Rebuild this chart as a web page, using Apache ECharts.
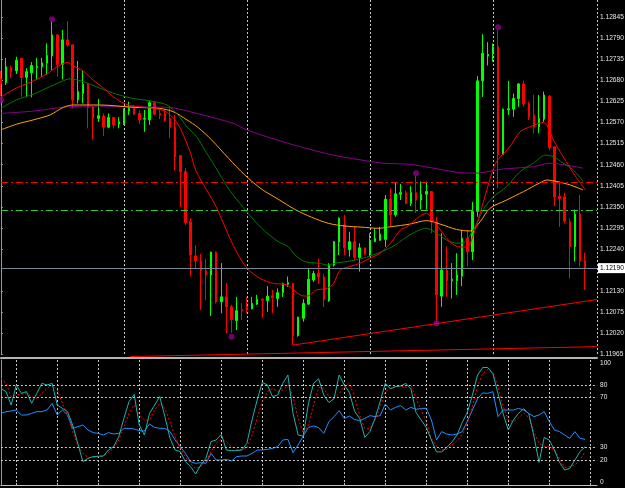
<!DOCTYPE html>
<html>
<head>
<meta charset="utf-8">
<script src="https://cdn.jsdelivr.net/npm/echarts@6/dist/echarts.min.js"></script>
<style>
  html, body { margin: 0; padding: 0; background: #000; }
  #chart { width: 625px; height: 488px; }
</style>
</head>
<body>
<div id="chart"></div>
<script>
// candles, one per bar (bar index = position in array)
var opens = [1.12684,1.12674,1.12713,1.12705,1.12738,1.12688,1.12700,1.12714,1.12716,1.12725,
  1.12744,1.12799,1.12722,1.12786,1.12773,1.12629,1.12646,1.12670,1.12611,1.12581,
  1.12587,1.12558,1.12583,1.12566,1.12566,1.12600,1.12607,1.12594,1.12579,1.12577,
  1.12622,1.12594,1.12594,1.12581,1.12558,1.12484,1.12442,1.12311,1.12222,1.12209,
  1.12183,1.12172,1.12232,1.12102,1.12115,1.12089,1.12053,1.12082,1.12091,1.12084,
  1.12096,1.12109,1.12105,1.12118,1.12111,1.12126,1.12148,1.12150,1.12014,1.12059,
  1.12096,1.12159,1.12176,1.12167,1.12105,1.12198,1.12258,1.12303,1.12238,1.12259,
  1.12218,1.12243,1.12224,1.12259,1.12263,1.12265,1.12370,1.12329,1.12383,1.12387,
  1.12359,1.12387,1.12368,1.12383,1.12390,1.12311,1.12117,1.12185,1.12157,1.12157,
  1.12169,1.12268,1.12233,1.12338,1.12679,1.12744,1.12752,1.12768,1.12487,1.12603,
  1.12605,1.12633,1.12671,1.12620,1.12590,1.12559,1.12579,1.12639,1.12507,1.12378,
  1.12376,1.12311,1.12246,1.12331,1.12209];
var closes = [1.12671,1.12716,1.12703,1.12733,1.12688,1.12703,1.12719,1.12717,1.12726,1.12745,
  1.12799,1.12722,1.12786,1.12773,1.12629,1.12651,1.12670,1.12610,1.12581,1.12588,
  1.12558,1.12583,1.12564,1.12572,1.12603,1.12607,1.12592,1.12577,1.12581,1.12622,
  1.12592,1.12590,1.12575,1.12557,1.12481,1.12442,1.12309,1.12224,1.12209,1.12183,
  1.12172,1.12232,1.12102,1.12115,1.12089,1.12056,1.12079,1.12079,1.12082,1.12098,
  1.12109,1.12106,1.12117,1.12113,1.12126,1.12149,1.12152,1.12014,1.12062,1.12098,
  1.12161,1.12176,1.12167,1.12107,1.12198,1.12259,1.12320,1.12243,1.12259,1.12218,
  1.12243,1.12227,1.12263,1.12268,1.12279,1.12370,1.12329,1.12384,1.12387,1.12359,
  1.12387,1.12368,1.12383,1.12390,1.12311,1.12120,1.12185,1.12157,1.12161,1.12172,
  1.12268,1.12233,1.12338,1.12679,1.12751,1.12748,1.12768,1.12487,1.12605,1.12606,
  1.12633,1.12671,1.12619,1.12585,1.12558,1.12581,1.12642,1.12504,1.12376,1.12372,
  1.12313,1.12246,1.12331,1.12209,1.12190];
var lows = [1.12639,1.12668,1.12686,1.12697,1.12637,1.12636,1.12636,1.12681,1.12690,1.12694,
  1.12707,1.12690,1.12683,1.12768,1.12607,1.12620,1.12620,1.12555,1.12526,1.12572,
  1.12535,1.12555,1.12555,1.12555,1.12564,1.12590,1.12590,1.12566,1.12546,1.12564,
  1.12590,1.12579,1.12572,1.12529,1.12444,1.12350,1.12303,1.12168,1.12190,1.12081,
  1.12107,1.12065,1.12098,1.12072,1.12020,1.12021,1.12028,1.12055,1.12072,1.12082,
  1.12094,1.12059,1.12076,1.12072,1.12089,1.12115,1.12141,1.11989,1.12011,1.12050,
  1.12094,1.12154,1.12149,1.12088,1.12102,1.12194,1.12224,1.12224,1.12220,1.12211,
  1.12181,1.12224,1.12220,1.12259,1.12261,1.12246,1.12298,1.12324,1.12368,1.12357,
  1.12352,1.12334,1.12343,1.12343,1.12281,1.12049,1.12089,1.12115,1.12111,1.12120,
  1.12143,1.12194,1.12211,1.12324,1.12637,1.12719,1.12729,1.12398,1.12485,1.12590,
  1.12585,1.12611,1.12611,1.12577,1.12542,1.12542,1.12572,1.12498,1.12352,1.12298,
  1.12307,1.12163,1.12207,1.12194,1.12133];
var highs = [1.12705,1.12739,1.12719,1.12742,1.12739,1.12712,1.12728,1.12739,1.12739,1.12777,
  1.12833,1.12800,1.12812,1.12835,1.12774,1.12731,1.12707,1.12673,1.12613,1.12632,
  1.12594,1.12594,1.12585,1.12584,1.12607,1.12625,1.12616,1.12603,1.12603,1.12626,
  1.12626,1.12603,1.12603,1.12613,1.12590,1.12485,1.12451,1.12320,1.12250,1.12227,
  1.12214,1.12233,1.12233,1.12203,1.12151,1.12094,1.12115,1.12098,1.12115,1.12115,
  1.12120,1.12111,1.12143,1.12133,1.12137,1.12152,1.12168,1.12152,1.12063,1.12109,
  1.12190,1.12183,1.12215,1.12175,1.12203,1.12261,1.12323,1.12329,1.12285,1.12298,
  1.12255,1.12243,1.12281,1.12294,1.12298,1.12381,1.12398,1.12412,1.12410,1.12392,
  1.12404,1.12431,1.12416,1.12416,1.12392,1.12324,1.12281,1.12246,1.12203,1.12229,
  1.12290,1.12290,1.12363,1.12692,1.12801,1.12780,1.12777,1.12812,1.12607,1.12679,
  1.12646,1.12673,1.12679,1.12625,1.12642,1.12642,1.12651,1.12642,1.12507,1.12416,
  1.12387,1.12320,1.12343,1.12381,1.12230];

// moving averages: [bar, price]
var maRed = [[0,1.12637],[3,1.12660],[6,1.12677],[9,1.12697],[11,1.12716],[13,1.12727],[14,1.12719],
  [16,1.12705],[18,1.12681],[20,1.12660],[22,1.12637],[24,1.12620],[26,1.12613],[28,1.12610],
  [30,1.12607],[32,1.12600],[33,1.12590],[34,1.12577],[35,1.12555],[36,1.12525],[37,1.12490],
  [38,1.12446],[39,1.12420],[42,1.12350],[45.3,1.12250],[48,1.12190],[50.6,1.12163],[53.2,1.12150],
  [55.8,1.12146],[58.4,1.12120],[59.7,1.12117],[61.6,1.12133],[63.6,1.12137],[64.9,1.12150],
  [66.2,1.12185],[68.1,1.12194],[70.1,1.12203],[72,1.12216],[74,1.12229],[76,1.12255],[78,1.12290],
  [79.2,1.12298],[83,1.12333],[85,1.12303],[87.6,1.12259],[89.6,1.12245],[91,1.12245],[92.2,1.12277],
  [93.5,1.12333],[94.8,1.12394],[95.8,1.12438],[96.8,1.12470],[99.3,1.12507],[101.3,1.12546],
  [103.2,1.12559],[105.8,1.12570],[106.5,1.12564],[107.8,1.12525],[109.7,1.12481],[111.7,1.12438],
  [114,1.12394]];
var maGreen = [[0,1.12607],[3,1.12629],[6.3,1.12644],[9.6,1.12664],[12.9,1.12683],[13.5,1.12684],
  [16.1,1.12677],[19.3,1.12660],[22.6,1.12644],[25.8,1.12633],[29.1,1.12627],[32.4,1.12616],
  [34.3,1.12594],[36.3,1.12559],[38.2,1.12533],[39.8,1.12498],[41.8,1.12455],[44.4,1.12398],
  [47.6,1.12343],[50.9,1.12294],[54.1,1.12259],[56.1,1.12246],[57.4,1.12224],[59.3,1.12207],
  [61.9,1.12203],[63.9,1.12198],[65.2,1.12203],[68.4,1.12209],[71.7,1.12220],[74.3,1.12233],
  [76.9,1.12250],[79.8,1.12277],[83,1.12294],[85,1.12281],[87.6,1.12259],[89.9,1.12255],
  [92.2,1.12290],[94.1,1.12343],[96.1,1.12376],[98.7,1.12403],[101.3,1.12442],[103.9,1.12464],
  [106.2,1.12485],[107.8,1.12481],[109.7,1.12464],[111.7,1.12446],[113.6,1.12416]];
var maOrange = [[0,1.12551],[3.1,1.12566],[6.3,1.12577],[9.6,1.12590],[12.2,1.12610],[14.1,1.12616],
  [19.3,1.12616],[25.8,1.12610],[31,1.12607],[33.7,1.12598],[36.3,1.12577],[38.4,1.12558],
  [41.1,1.12525],[44.4,1.12477],[47.6,1.12433],[50.9,1.12396],[54.1,1.12370],[57.4,1.12343],
  [60.6,1.12323],[63.9,1.12307],[67.1,1.12300],[70.4,1.12297],[73.6,1.12294],[76,1.12298],
  [79.8,1.12305],[83,1.12314],[85.7,1.12305],[88.9,1.12291],[91.5,1.12287],[93.5,1.12311],
  [95.4,1.12346],[98.7,1.12368],[102,1.12390],[105.2,1.12413],[106.5,1.12420],[108.5,1.12416],
  [111.1,1.12407],[113.6,1.12394]];
var maPurple = [[0,1.12594],[6.3,1.12600],[12.9,1.12611],[19.3,1.12613],[25.8,1.12611],[32.4,1.12610],
  [38.8,1.12592],[45.3,1.12568],[48,1.12551],[51.9,1.12533],[58.4,1.12507],[64.9,1.12485],
  [71.4,1.12470],[74.6,1.12464],[79.8,1.12461],[84.4,1.12451],[90.9,1.12438],[92.8,1.12438],
  [97.4,1.12448],[103.9,1.12455],[107.1,1.12464],[110.4,1.12459],[113.6,1.12451]];

var trendUp = [[57,1.11989],[116.3,1.12108]];
var trendLow = [[25.2,1.11959],[116.3,1.11985]];
var fractals = [[0,1.12629],[10,1.12840],[45,1.12011],[81,1.12438],[85,1.12046],[97,1.12819]];

var bidPrice = 1.12190;
var redLevel = 1.12414;
var greenLevel = 1.12340;
var priceTicks = [1.11965,1.12020,1.12075,1.12130,1.12240,1.12295,1.12350,1.12405,
  1.12460,1.12515,1.12570,1.12625,1.12680,1.12735,1.12790,1.12845];
var timeTicks = [3,11,19,27,35,43,51,59,67,75,83,91,99,107,115];

// oscillator pane
var stochK = [77.3,74.7,64,80,73.3,74.7,65.3,73.3,81.3,80,81.3,64,61.3,58.7,48,33.3,18.7,21.3,22.7,23,
  23.2,28,30.7,38.7,53.3,66.7,72.5,48,40,57.3,64,70.7,54.7,37.3,28,26.7,18.7,14.7,8.8,16,
  21.3,34.7,36,40.5,28,27.5,27.5,28,33.3,52,68,82.1,80,70.7,72,81.3,88,57.3,40,39.2,
  65,81.3,85,72,66,69,88,80,74,59,53.3,38.1,42.7,53.3,66.7,81.3,77,78.7,79.2,81.3,
  77,58,52,46,36,26.5,26.5,30,34.5,40,50,58,72,88,94,94,89,73,57,44,
  52,57.3,61,57,39,18,38,36,28,18,12,13.3,20,26.7,30.7];
var stochD = [85.3,81.3,70.7,72,72.8,73.3,70.7,69.3,73.3,77.3,80,76,65.3,56,42.7,32,25.3,22.1,22.1,22.7,
  23.2,25.9,29.3,36,46.7,57.3,64,56,52,52,60,65.3,61.3,50.7,38.7,29.3,22.7,17.3,13.3,14.7,
  18.7,26.7,33.3,36.5,34.7,30.7,28.5,28,29.3,40,53.3,66.7,74.7,77.3,74.7,76,80,70.7,53.3,41.3,
  48,64,78,77.3,70.7,69.3,73.3,78.7,81.3,70.7,56,45.3,45.3,52,62.7,74.7,77.3,78.7,79.2,78.1,
  80,69.3,60,50.7,37,31,27.8,28.5,32,35.5,40,49,63,79,89,92.5,90,79,63,52,
  50.7,53.5,57.5,54,42.5,33.5,31,30.7,28.2,21,14,14.7,16,20,26.7];
var rsi = [57.3,58.7,59.2,60,56,56,57.3,58.7,58.7,60,65.3,56,60,56,45.3,46.7,48,44,41.9,41.3,
  40,41.9,40.8,41.3,45.3,45.3,44.8,43.5,43.2,48.8,46.1,45.3,45.3,42.7,36,30.7,25.3,18.7,17.3,17.9,
  17.3,25.3,20,20,20.5,19.2,22.7,23.2,23.2,25.3,28,28,28.5,29.3,30.7,36,36.5,25.9,32,39.2,
  46.1,47.2,45.9,41.3,50.7,54.7,59.5,53.3,55.2,52.5,51.5,53.3,55.5,54.7,55.5,64.8,60,62.1,63.5,60,
  62.1,60.5,61.3,61.3,52,36,42.7,40.8,40,40.8,42.7,51,60,69,73.7,73.3,74.7,54.7,60,60,
  60,61.3,60,57.3,54.7,56,58.7,50.7,44,42.7,40,37.3,42.7,37.3,36.5];
var oscLevels = [20,30,70,80];
var oscLabels = [0,20,30,70,80,100];

var chart = echarts.init(document.getElementById('chart'));

var candles = opens.map(function (o, i) { return [i, o, closes[i], lows[i], highs[i]]; });
function byBar(arr) { return arr.map(function (v, i) { return [i, v]; }); }

var labelFont = { color: '#e8e8e8', fontSize: 6.6, fontFamily: '"Liberation Sans", Arial, sans-serif' };
var gridDash = { color: '#c8c8c8', type: [2, 2], width: 1 };
var dashDot = [7, 3, 2, 3];
var xMax = 116.31;

var option = {
  backgroundColor: '#000',
  animation: false,
  grid: [
    { left: 0.9, right: 28, top: 0, height: 354.3, containLabel: false, outerBoundsMode: 'none' },
    { left: 0.9, right: 28, top: 360, bottom: 3, containLabel: false, outerBoundsMode: 'none' }
  ],
  xAxis: [
    { type: 'value', gridIndex: 0, min: 0, max: xMax, interval: 24,
      axisLine: { show: false }, axisTick: { show: false }, axisLabel: { show: false },
      splitLine: { show: true, lineStyle: gridDash } },
    { type: 'value', gridIndex: 1, min: 0, max: xMax, interval: 24, position: 'bottom', offset: 2,
      axisLine: { show: true, lineStyle: { color: '#c0c0c0', width: 1 } },
      axisTick: { show: true, inside: true, length: 2, customValues: timeTicks, lineStyle: { color: '#c0c0c0' } },
      axisLabel: { show: false },
      splitLine: { show: true, lineStyle: gridDash } },
    { type: 'value', gridIndex: 1, min: 0, max: xMax, position: 'top', offset: 2,
      axisLine: { show: true, lineStyle: { color: '#b4b4b4', width: 2 } },
      axisTick: { show: false }, axisLabel: { show: false }, splitLine: { show: false } }
  ],
  yAxis: [
    { type: 'value', gridIndex: 0, position: 'right', min: 1.11965, max: 1.128901,
      axisLine: { show: true, lineStyle: { color: '#9a9a9a' } },
      axisTick: { show: true, length: 2, customValues: priceTicks, lineStyle: { color: '#9a9a9a' } },
      axisLabel: Object.assign({ customValues: priceTicks, margin: 3,
        formatter: function (v) { return v.toFixed(5); } }, labelFont),
      splitLine: { show: false } },
    { type: 'value', gridIndex: 1, position: 'right', min: 0, max: 100,
      axisLine: { show: true, lineStyle: { color: '#9a9a9a' } },
      axisTick: { show: false },
      axisLabel: Object.assign({ customValues: oscLabels, margin: 3,
        formatter: function (v) {
          if (v === 100) return '{t|100}';
          if (v === 0) return '{b|0}';
          return String(v);
        },
        rich: {
          t: Object.assign({ padding: [6, 0, 0, 0] }, labelFont),
          b: Object.assign({ padding: [0, 0, 6, 0] }, labelFont)
        } }, labelFont),
      splitLine: { show: false } }
  ],
  series: [
    {
      type: 'candlestick', xAxisIndex: 0, yAxisIndex: 0, barWidth: 2,
      data: candles,
      itemStyle: { color: '#00ff00', color0: '#ff0000', borderColor: '#00ff00', borderColor0: '#ff0000', borderWidth: 1 }
    },
    { type: 'line', name: 'MA purple', xAxisIndex: 0, yAxisIndex: 0, data: maPurple, showSymbol: false, smooth: 0.3,
      lineStyle: { color: '#8b008b', width: 1 } },
    { type: 'line', name: 'MA orange', xAxisIndex: 0, yAxisIndex: 0, data: maOrange, showSymbol: false, smooth: 0.3,
      lineStyle: { color: '#ffa500', width: 1 } },
    { type: 'line', name: 'MA green', xAxisIndex: 0, yAxisIndex: 0, data: maGreen, showSymbol: false, smooth: 0.3,
      lineStyle: { color: '#007800', width: 1 } },
    { type: 'line', name: 'MA red', xAxisIndex: 0, yAxisIndex: 0, data: maRed, showSymbol: false, smooth: 0.3,
      lineStyle: { color: '#ff0000', width: 1 },
      markLine: {
        silent: true, symbol: 'none', animation: false, precision: 5,
        data: [
          { yAxis: redLevel, lineStyle: { color: '#ff0000', type: dashDot, width: 1 }, label: { show: false } },
          { yAxis: greenLevel, lineStyle: { color: '#32cd32', type: dashDot, width: 1 }, label: { show: false } },
          { yAxis: bidPrice, lineStyle: { color: '#778899', type: 'solid', width: 1 },
            label: { show: true, position: 'end', distance: 1, formatter: bidPrice.toFixed(5),
              backgroundColor: '#ffffff', color: '#000', padding: [2, 2, 1, 2],
              fontSize: 6.6, fontFamily: labelFont.fontFamily } }
        ]
      } },
    { type: 'line', xAxisIndex: 0, yAxisIndex: 0, data: trendUp, showSymbol: false, clip: false,
      lineStyle: { color: '#ff0000', width: 1 } },
    { type: 'line', xAxisIndex: 0, yAxisIndex: 0, data: trendLow, showSymbol: false, clip: false,
      lineStyle: { color: '#ff0000', width: 1 } },
    { type: 'scatter', xAxisIndex: 0, yAxisIndex: 0, data: fractals, symbolSize: 6,
      itemStyle: { color: '#8b008b' } },

    { type: 'line', xAxisIndex: 1, yAxisIndex: 1, data: byBar(rsi), showSymbol: false,
      lineStyle: { color: '#1e90ff', width: 1 },
      markLine: {
        silent: true, symbol: 'none', animation: false, label: { show: false },
        lineStyle: { color: '#c8c8c8', type: [2, 2], width: 1 },
        data: oscLevels.map(function (v) { return { yAxis: v }; })
      } },
    { type: 'line', xAxisIndex: 1, yAxisIndex: 1, data: byBar(stochD), showSymbol: false,
      lineStyle: { color: '#ff0000', width: 1, type: [2, 2] } },
    { type: 'line', xAxisIndex: 1, yAxisIndex: 1, data: byBar(stochK), showSymbol: false,
      lineStyle: { color: '#20b2aa', width: 1 } }
  ]
};
chart.setOption(option);
</script>
</body>
</html>
